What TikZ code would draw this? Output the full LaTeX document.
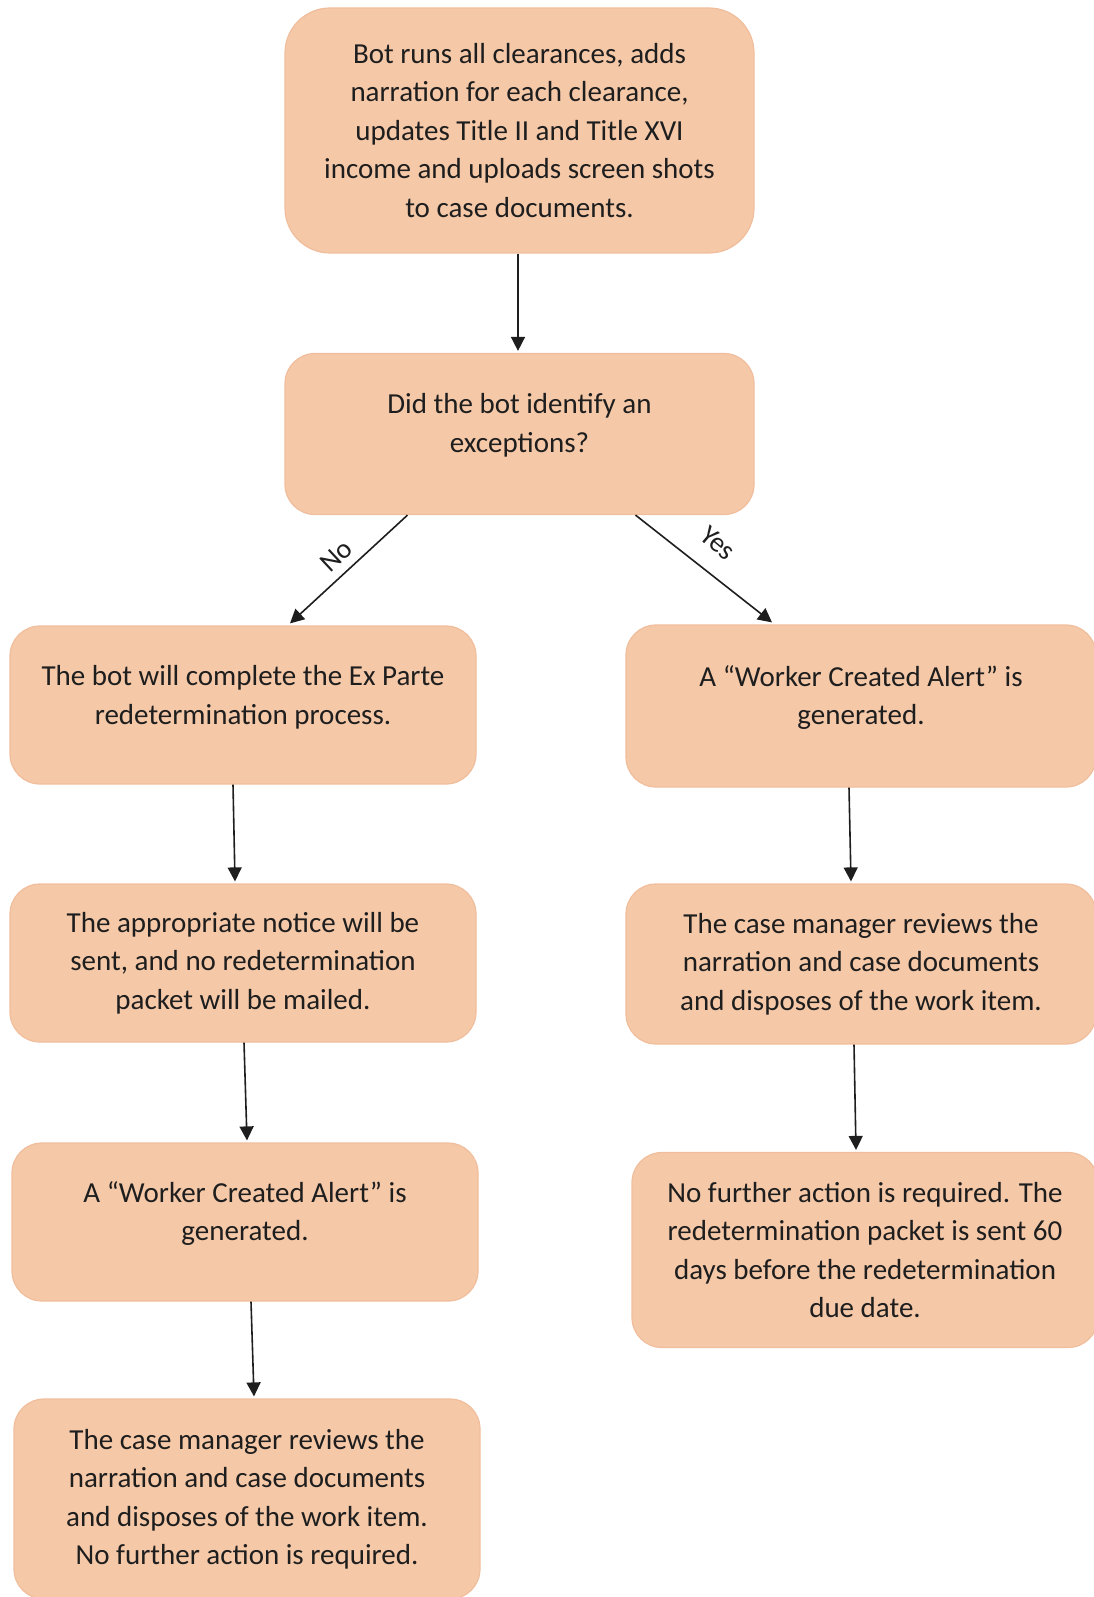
\documentclass[tikz,border=0pt]{standalone}
\usepackage{fontspec}
\setmainfont{Carlito}
\usetikzlibrary{arrows.meta}
\definecolor{peach}{HTML}{F5C8A8}
\definecolor{peachedge}{HTML}{F0BE9C}
\definecolor{ink}{HTML}{1E1E1E}
\newcommand{\dropbase}[1]{\rule[-#1]{0pt}{#1}}
\begin{document}
\begin{tikzpicture}[x=1pt,y=-1pt,
  box/.style={draw=peachedge, line width=1.2pt, fill=peach, rounded corners=30pt,
    align=center, text=ink, font=\fontsize{29}{38.5}\selectfont, inner sep=0pt},
  arr/.style={-{Triangle[length=14pt,width=14pt]}, line width=1.6pt, draw=ink},
  lbl/.style={font=\fontsize{28}{30}\selectfont, text=ink, inner sep=1pt}]
\useasboundingbox (0,0) rectangle (1093,1597);
\node[box, minimum width=469pt, minimum height=245pt, rounded corners=45pt] (b1) at (519.5,130.5)
  {Bot runs all clearances, adds\\narration for each clearance,\\updates Title II and Title XVI\\income and uploads screen shots\\to case documents.};
\node[box, minimum width=469pt, minimum height=161pt] (b2) at (519.5,434)
  {Did the bot identify an\\exceptions?\dropbase{22pt}};
\node[box, minimum width=466pt, minimum height=158pt] (l1) at (243,705)
  {The bot will complete the Ex Parte\\redetermination process.\dropbase{20pt}};
\node[box, minimum width=470pt, minimum height=162pt] (r1) at (861,706)
  {A “Worker Created Alert” is\\generated.\dropbase{22pt}};
\node[box, minimum width=466pt, minimum height=158pt] (l2) at (243,963)
  {The appropriate notice will be\\sent, and no redetermination\\packet will be mailed.};
\node[box, minimum width=470pt, minimum height=160pt] (r2) at (861,964)
  {The case manager reviews the\\narration and case documents\\and disposes of the work item.};
\node[box, minimum width=466pt, minimum height=158pt] (l3) at (245,1222)
  {A “Worker Created Alert” is\\generated.\dropbase{22pt}};
\node[box, minimum width=466pt, minimum height=195pt] (r3) at (865,1250)
  {No further action is required. The\\redetermination packet is sent 60\\days before the redetermination\\due date.};
\node[box, minimum width=466pt, minimum height=200pt] (l4) at (247,1499)
  {The case manager reviews the\\narration and case documents\\and disposes of the work item.\\No further action is required.};
\draw[arr] ([xshift=-1.5pt]b1.south) -- ([xshift=-1.5pt,yshift=2pt]b2.north);
\draw[arr] ([xshift=-112pt]b2.south) -- ([xshift=47pt,yshift=2pt]l1.north);
\draw[arr] ([xshift=116pt]b2.south) -- ([xshift=-89pt,yshift=2pt]r1.north);
\draw[arr] ([xshift=-10pt]l1.south) -- ([xshift=-8pt,yshift=2pt]l2.north);
\draw[arr] ([xshift=1pt]l2.south) -- ([xshift=2pt,yshift=2pt]l3.north);
\draw[arr] ([xshift=6pt]l3.south) -- ([xshift=7pt,yshift=2pt]l4.north);
\draw[arr] ([xshift=-12pt]r1.south) -- ([xshift=-10pt,yshift=2pt]r2.north);
\draw[arr] ([xshift=-7pt]r2.south) -- ([xshift=-9pt,yshift=2pt]r3.north);
\node[lbl, rotate=43] (no) at (336,556) {No};
\node[lbl, rotate=-40] (yes) at (718,543) {Yes};
\end{tikzpicture}
\end{document}
